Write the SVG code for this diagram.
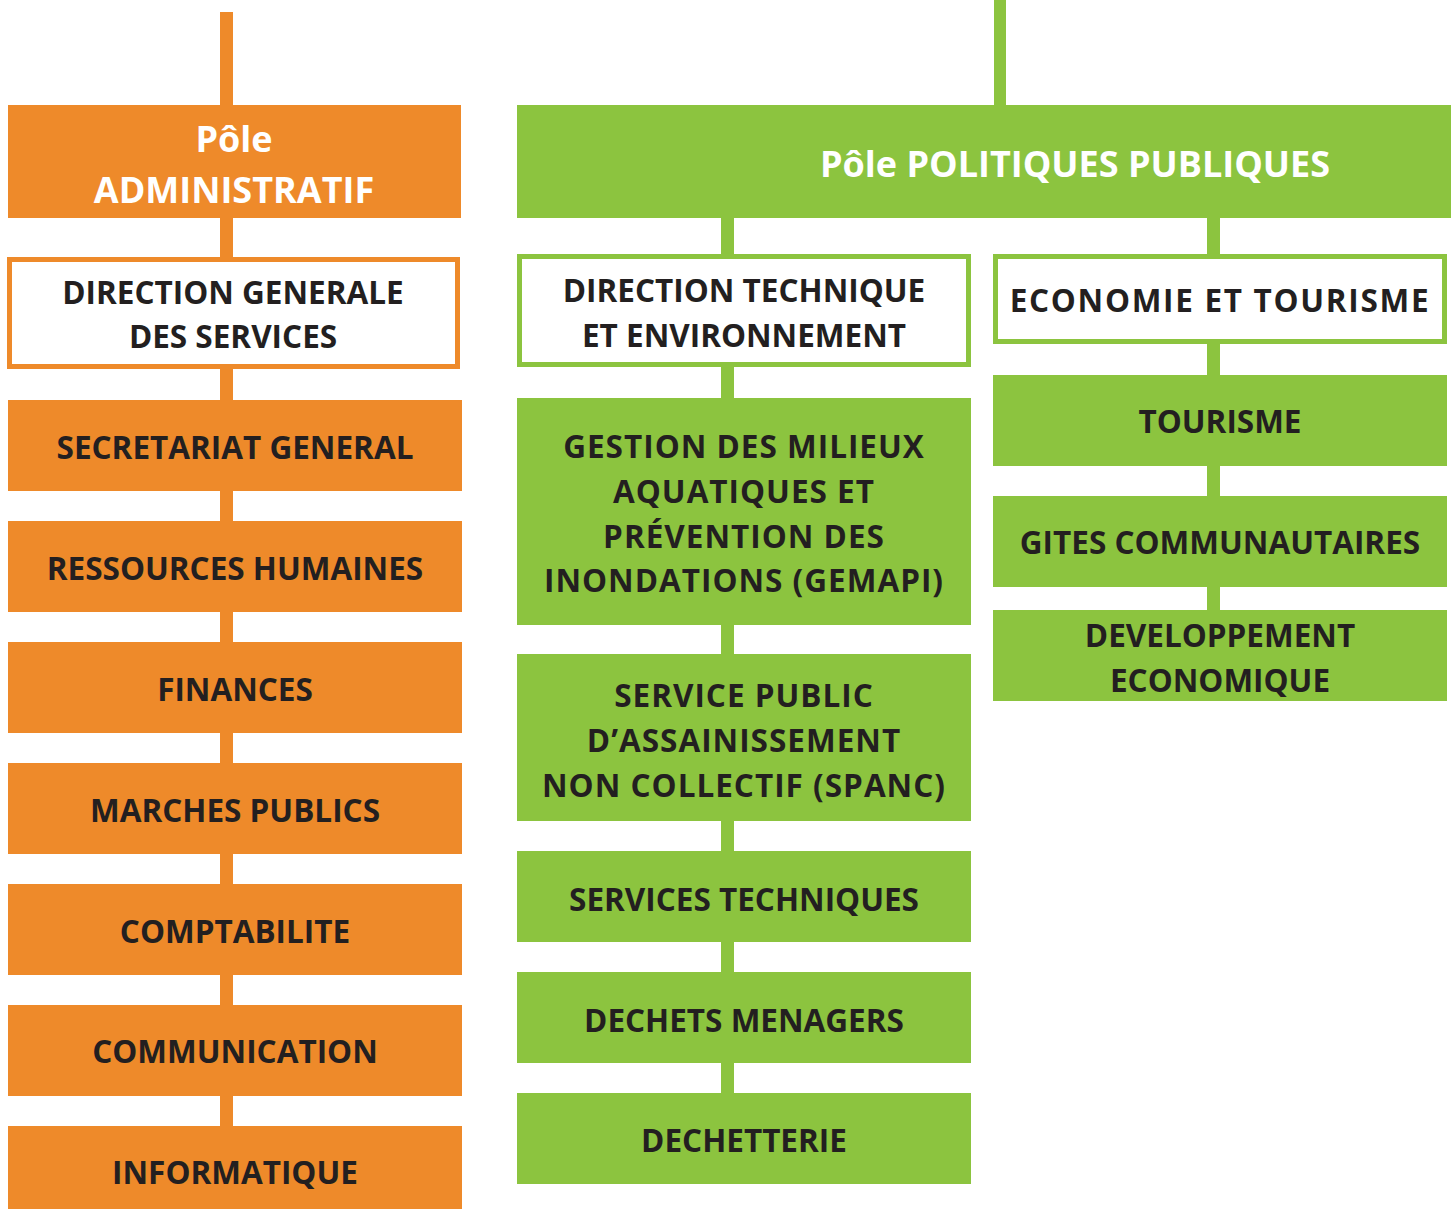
<svg xmlns="http://www.w3.org/2000/svg" width="1451" height="1209" viewBox="0 0 1451 1209">
<style>
.o{fill:#EE8A2A}
.g{fill:#8CC43F}
.ob{fill:#fff;stroke:#EE8A2A;stroke-width:5}
.gb{fill:#fff;stroke:#8CC43F;stroke-width:5}
.co{fill:#EE8A2A}
.cg{fill:#8CC43F}
text{font-family:"Open Sans","DejaVu Sans",sans-serif;font-weight:700;text-anchor:middle}
.w{fill:#fff;font-size:36px}
.d{fill:#231F20;font-size:31.5px}
.s{letter-spacing:1px}
.e{letter-spacing:1.7px}
</style>
<rect width="1451" height="1209" fill="#fff"/>
<g id="connectors">
<rect class="co" x="220" y="12" width="13" height="1120"/>
<rect class="cg" x="994" y="0" width="12" height="110"/>
<rect class="cg" x="721" y="214" width="13" height="884"/>
<rect class="cg" x="1207" y="214" width="13" height="400"/>
</g>
<g id="pole-admin"><rect class="o" x="8" y="105" width="453" height="113"/><text class="w" x="234" y="152">Pôle</text><text class="w" x="234" y="203">ADMINISTRATIF</text></g>
<g id="dgs"><rect class="ob" x="9.5" y="259.5" width="448" height="107"/><text class="d" x="233" y="304">DIRECTION GENERALE</text><text class="d" x="233" y="348">DES SERVICES</text></g>
<g id="secretariat"><rect class="o" x="8" y="400" width="454" height="91"/><text class="d" x="235" y="459">SECRETARIAT GENERAL</text></g>
<g id="rh"><rect class="o" x="8" y="521" width="454" height="91"/><text class="d" x="235" y="580">RESSOURCES HUMAINES</text></g>
<g id="finances"><rect class="o" x="8" y="642" width="454" height="91"/><text class="d" x="235" y="701">FINANCES</text></g>
<g id="marches"><rect class="o" x="8" y="763" width="454" height="91"/><text class="d" x="235" y="822">MARCHES PUBLICS</text></g>
<g id="comptabilite"><rect class="o" x="8" y="884" width="454" height="91"/><text class="d" x="235" y="943">COMPTABILITE</text></g>
<g id="communication"><rect class="o" x="8" y="1005" width="454" height="91"/><text class="d" x="235" y="1063">COMMUNICATION</text></g>
<g id="informatique"><rect class="o" x="8" y="1126" width="454" height="83"/><text class="d" x="235" y="1184">INFORMATIQUE</text></g>
<g id="pole-politiques"><rect class="g" x="517" y="105" width="934" height="113"/><text class="w" x="1075" y="177">Pôle POLITIQUES PUBLIQUES</text></g>
<g id="dte"><rect class="gb" x="519.5" y="256.5" width="449" height="108"/><text class="d" x="744" y="302">DIRECTION TECHNIQUE</text><text class="d" x="744" y="347">ET ENVIRONNEMENT</text></g>
<g id="eco"><rect class="gb" x="995.5" y="256.5" width="449" height="85"/><text class="d e" x="1220" y="312">ECONOMIE ET TOURISME</text></g>
<g id="gemapi"><rect class="g" x="517" y="398" width="454" height="227"/><text class="d s" x="744" y="458">GESTION DES MILIEUX</text><text class="d s" x="744" y="503">AQUATIQUES ET</text><text class="d s" x="744" y="548">PRÉVENTION DES</text><text class="d s" x="744" y="592">INONDATIONS (GEMAPI)</text></g>
<g id="spanc"><rect class="g" x="517" y="654" width="454" height="167"/><text class="d s" x="744" y="707">SERVICE PUBLIC</text><text class="d s" x="744" y="752">D’ASSAINISSEMENT</text><text class="d s" x="744" y="797">NON COLLECTIF (SPANC)</text></g>
<g id="services-techniques"><rect class="g" x="517" y="851" width="454" height="91"/><text class="d" x="744" y="911">SERVICES TECHNIQUES</text></g>
<g id="dechets"><rect class="g" x="517" y="972" width="454" height="91"/><text class="d" x="744" y="1032">DECHETS MENAGERS</text></g>
<g id="dechetterie"><rect class="g" x="517" y="1093" width="454" height="91"/><text class="d" x="744" y="1152">DECHETTERIE</text></g>
<g id="tourisme"><rect class="g" x="993" y="375" width="454" height="91"/><text class="d" x="1220" y="433">TOURISME</text></g>
<g id="gites"><rect class="g" x="993" y="496" width="454" height="91"/><text class="d" x="1220" y="554">GITES COMMUNAUTAIRES</text></g>
<g id="developpement"><rect class="g" x="993" y="610" width="454" height="91"/><text class="d" x="1220" y="647">DEVELOPPEMENT</text><text class="d" x="1220" y="692">ECONOMIQUE</text></g>
</svg>
